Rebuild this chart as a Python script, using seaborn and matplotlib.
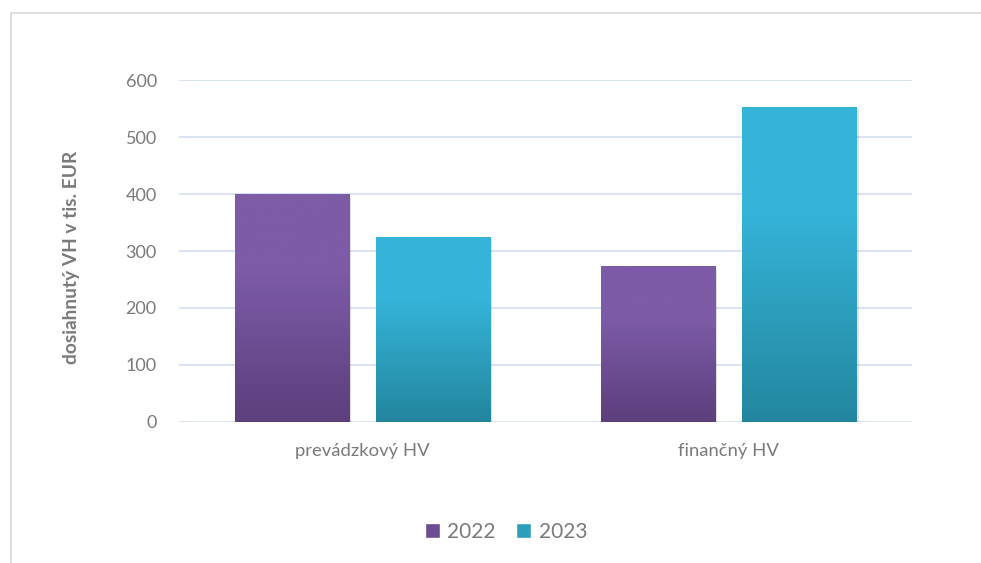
import numpy as np
import pandas as pd
import seaborn as sns
import matplotlib
matplotlib.use("Agg")
import matplotlib.pyplot as plt
from matplotlib.colors import LinearSegmentedColormap
from matplotlib.lines import Line2D
import matplotlib.patheffects as pe

# ---- data ----
categories = ["prevádzkový HV", "finančný HV"]
years = ["2022", "2023"]
values_2022 = [400, 274]
values_2023 = [325, 553]
yticks = [0, 100, 200, 300, 400, 500, 600]
ylabel = "dosiahnutý VH v tis. EUR"

df = pd.DataFrame({
    "kategoria": categories * 2,
    "rok": [years[0]] * len(categories) + [years[1]] * len(categories),
    "hodnota": values_2022 + values_2023,
})

top_colors = {"2022": "#7D5BA7", "2023": "#35B3D8"}
bottom_colors = {"2022": "#5C3F7C", "2023": "#23869F"}
mid_colors = {"2022": "#6C4D92", "2023": "#2C9DBB"}

sns.set_theme(style="white")
plt.rcParams['font.family'] = ['Lato', 'DejaVu Sans']

text_grey = "#7A7A7A"

fig = plt.figure(figsize=(9.81, 5.63), dpi=100)
ax = fig.add_axes([179 / 981, 1 - 421.7 / 563, 733 / 981, 341.4 / 563])

sns.barplot(data=df, x="kategoria", y="hodnota", hue="rok", hue_order=years,
            order=categories, palette=mid_colors, width=0.77, gap=0.19,
            saturation=1, ax=ax, legend=True, zorder=2)

# gradient fill per bar
grad = np.linspace(0, 1, 256).reshape(-1, 1)
for container, yr in zip(ax.containers, years):
    cmap = LinearSegmentedColormap.from_list(
        "g" + yr, [bottom_colors[yr], mid_colors[yr], top_colors[yr], top_colors[yr]])
    for patch in container:
        x0 = patch.get_x()
        w = patch.get_width()
        h = patch.get_height()
        patch.set_facecolor("none")
        patch.set_edgecolor("none")
        patch.set_path_effects([pe.SimplePatchShadow(offset=(1.5, -1.5),
                                                     shadow_rgbFace="#000000",
                                                     alpha=0.12), pe.Normal()])
        im = ax.imshow(grad, extent=[x0, x0 + w, 0, h], origin="lower",
                       aspect="auto", cmap=cmap, zorder=3, interpolation="bilinear")
        im.set_clip_path(patch)

ax.set_xlim(-0.5, len(categories) - 0.5)
ax.set_ylim(0, 600)
ax.set_yticks(yticks)
ax.yaxis.grid(True, color="#D6E0F0", linewidth=1.3)
ax.set_axisbelow(True)
for s in ax.spines.values():
    s.set_visible(False)
ax.tick_params(axis="both", length=0, colors=text_grey, labelsize=13)
ax.tick_params(axis="x", labelsize=13.3, pad=15)
ax.tick_params(axis="y", pad=16)
ax.set_xlabel("")
ax.set_ylabel(ylabel, fontsize=13.8, fontweight="bold", color=text_grey)
ax.yaxis.set_label_coords(-0.135, 0.48)

# legend
handles, labels = ax.get_legend_handles_labels()
ax.legend_.remove()
fig.legend(handles, labels, loc="center", bbox_to_anchor=(506 / 981, 1 - 532 / 563),
           ncol=2, frameon=False, fontsize=15, labelcolor=text_grey,
           handlelength=0.72, handleheight=0.72, handletextpad=0.35,
           columnspacing=1.0)

# figure border (top and left)
fig.add_artist(Line2D([11 / 981, 1.0], [1 - 12.5 / 563, 1 - 12.5 / 563],
                      transform=fig.transFigure, color="#D9D9D9", linewidth=1.2))
fig.add_artist(Line2D([11 / 981, 11 / 981], [0, 1 - 12.5 / 563],
                      transform=fig.transFigure, color="#D9D9D9", linewidth=1.2))

fig.savefig("out.png", dpi=100, facecolor="white")
